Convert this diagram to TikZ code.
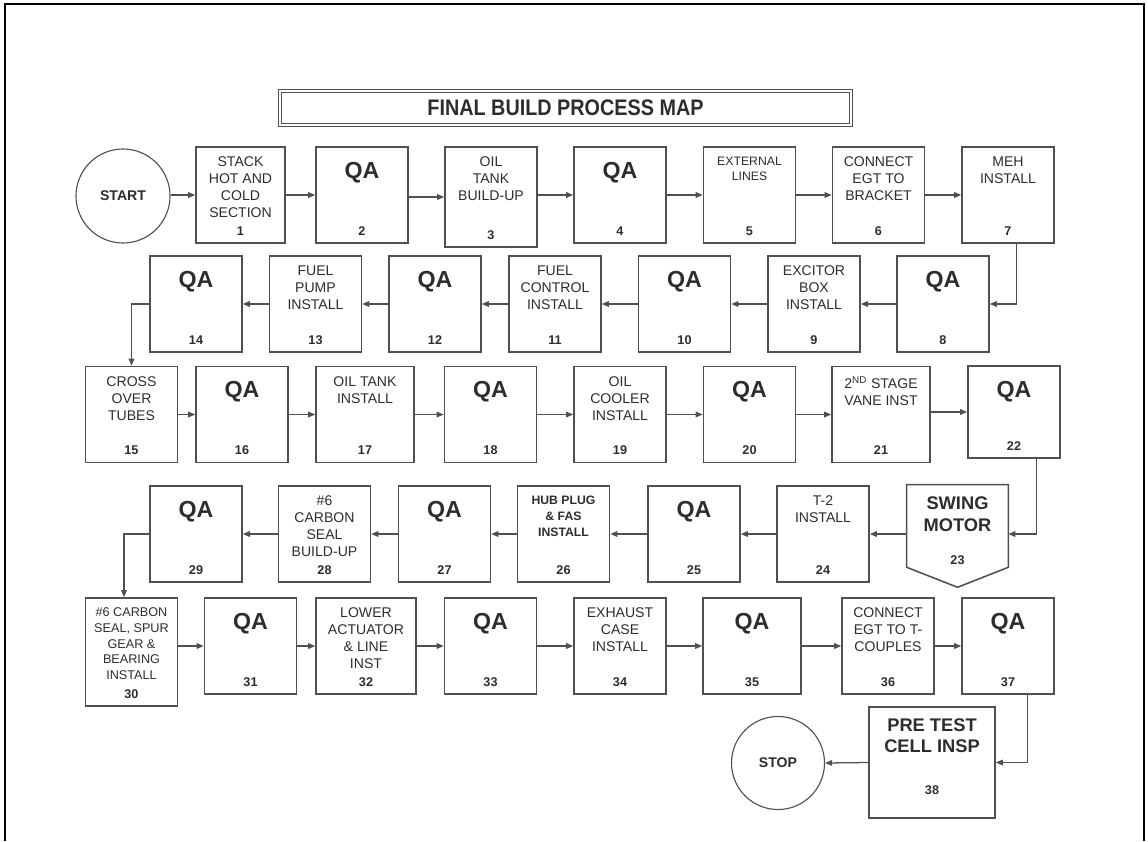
\documentclass[tikz,border=0pt]{standalone}
\usepackage{fontspec}
\setmainfont{Liberation Sans}
\newfontfamily\titlefont{Liberation Sans}[FakeStretch=0.88]
\usetikzlibrary{arrows.meta,calc}
\definecolor{boxgray}{RGB}{80,80,80}
\definecolor{inkgray}{RGB}{45,45,45}
\tikzset{
  boxedge/.style={draw=boxgray,line width=1.1pt},
  box/.style={boxedge,minimum width=2.3cm,minimum height=2.4cm,inner sep=0pt},
  boxtxt/.style={anchor=north,yshift=-7.5pt,align=center,inner sep=0pt,text=inkgray,font=\fontsize{10}{12}\selectfont},
  bigtxt/.style={anchor=north,yshift=-8.5pt,align=center,inner sep=0pt,text=inkgray,font=\fontsize{13}{15.3}\selectfont\bfseries},
  qa/.style={anchor=north,yshift=-11.2pt,inner sep=0pt,text=inkgray,font=\fontsize{16.5}{18}\selectfont\bfseries},
  boxnum/.style={anchor=base,yshift=6pt,inner sep=0pt,text=inkgray,font=\fontsize{9}{10}\selectfont\bfseries},
  term/.style={circle,draw=boxgray,line width=0.8pt,minimum size=2.35cm,inner sep=0pt,text=inkgray,font=\fontsize{10}{12}\selectfont\bfseries},
  flow/.style={draw=boxgray,line width=0.9pt,-{Triangle[length=5pt,width=4pt]}}
}
% box, its text at the top and its number at the bottom
\newcommand{\flowbox}[6][]{%
  \node[box,#1] (#2) at (#3) {};
  \node[#4] (#2t) at (#2.north) {#5};
  \node[boxnum] (#2n) at (#2.south) {#6};}

\begin{document}
\begin{tikzpicture}[x=0.025cm,y=-0.025cm]
\useasboundingbox (0,0) rectangle (1148,841);
\draw[line width=1.3pt] (5,841) |- (1144,4) -- (1144,841);
\node[draw=boxgray,double,double distance=1.8pt,line width=0.7pt,minimum width=14.27cm,minimum height=0.84cm,text=inkgray,font=\titlefont\fontsize{16}{18}\selectfont\bfseries] (title) at (565.5,108) {FINAL BUILD PROCESS MAP};
% row 1
\node[term] (start) at (123,196) {START};
\flowbox[minimum width=2.225cm]{s1}{240.5,195}{boxtxt}{STACK\\HOT AND\\COLD\\SECTION}{1}
\flowbox{s2}{362,195}{qa}{QA}{2}
\flowbox[minimum height=2.5cm]{s3}{491,197}{boxtxt}{OIL\\TANK\\BUILD-UP}{3}
\flowbox{s4}{620,195}{qa}{QA}{4}
\flowbox{s5}{749.5,195}{boxtxt,font=\fontsize{8.7}{11}\selectfont}{EXTERNAL\\LINES}{5}
\flowbox{s6}{878.5,195}{boxtxt}{CONNECT\\EGT TO\\BRACKET}{6}
\flowbox{s7}{1008,195}{boxtxt}{MEH\\INSTALL}{7}
% row 2
\flowbox{s8}{943,304}{qa}{QA}{8}
\flowbox{s9}{814,304}{boxtxt}{EXCITOR\\BOX\\INSTALL}{9}
\flowbox{s10}{684.5,304}{qa}{QA}{10}
\flowbox{s11}{555,304}{boxtxt}{FUEL\\CONTROL\\INSTALL}{11}
\flowbox{s12}{435,304}{qa}{QA}{12}
\flowbox{s13}{315.5,304}{boxtxt}{FUEL\\PUMP\\INSTALL}{13}
\flowbox{s14}{196,304}{qa}{QA}{14}
% row 3
\flowbox{s15}{131.5,414.5}{boxtxt}{CROSS\\OVER\\TUBES}{15}
\flowbox{s16}{242,414.5}{qa}{QA}{16}
\flowbox[minimum width=2.45cm]{s17}{365,414.5}{boxtxt}{OIL TANK\\INSTALL}{17}
\flowbox{s18}{490.5,414.5}{qa}{QA}{18}
\flowbox{s19}{620,414.5}{boxtxt}{OIL\\COOLER\\INSTALL}{19}
\flowbox{s20}{749.5,414.5}{qa}{QA}{20}
\flowbox[minimum width=2.45cm]{s21}{881,414.5}{boxtxt}{2\textsuperscript{ND} STAGE\\VANE INST}{21}
\flowbox[minimum height=2.3cm]{s22}{1014,412}{qa}{QA}{22}
% row 4
\node[minimum width=2.525cm,minimum height=2.05cm,inner sep=0pt] (s23) at (957.5,526) {};
\draw[boxedge] (s23.north west) -- (s23.north east) -- (s23.south east) -- ($(s23.south)+(0,20)$) -- (s23.south west) -- cycle;
\node[bigtxt] (s23t) at (s23.north) {SWING\\MOTOR};
\node[boxnum] (s23n) at ($(s23.south)+(0,6)$) {23};
\flowbox{s24}{823,534}{boxtxt}{T-2\\INSTALL}{24}
\flowbox{s25}{694,534}{qa}{QA}{25}
\flowbox{s26}{563.5,534}{boxtxt,font=\fontsize{8.7}{11.2}\selectfont\bfseries}{HUB PLUG\\\& FAS\\INSTALL}{26}
\flowbox{s27}{444.5,534}{qa}{QA}{27}
\flowbox{s28}{324.5,534}{boxtxt}{\#6\\CARBON\\SEAL\\BUILD-UP}{28}
\flowbox{s29}{196,534}{qa}{QA}{29}
% row 5
\flowbox[minimum height=2.7cm]{s30}{131.5,652}{boxtxt,font=\fontsize{9}{11.1}\selectfont}{\#6 CARBON\\SEAL, SPUR\\GEAR \&\\BEARING\\INSTALL}{30}
\flowbox{s31}{250.5,646}{qa}{QA}{31}
\flowbox[minimum width=2.5cm]{s32}{366,646}{boxtxt}{LOWER\\ACTUATOR\\\& LINE\\INST}{32}
\flowbox{s33}{490.5,646}{qa}{QA}{33}
\flowbox{s34}{620,646}{boxtxt}{EXHAUST\\CASE\\INSTALL}{34}
\flowbox[minimum width=2.45cm]{s35}{752,646}{qa}{QA}{35}
\flowbox{s36}{888,646}{boxtxt}{CONNECT\\EGT TO T-\\COUPLES}{36}
\flowbox{s37}{1008,646}{qa}{QA}{37}
% row 6
\node[box,minimum width=3.15cm,minimum height=2.775cm] (s38) at (932,762.5) {};
\node[bigtxt] (s38t) at (s38.north) {PRE TEST\\CELL INSP};
\node[boxnum] (s38n) at ($(s38.south)+(0,-16)$) {38};
\node[term,minimum size=2.325cm] (stop) at (778,763) {STOP};
% connectors
\foreach \a/\b in {start/s1,s1/s2,s2/s3,s3/s4,s4/s5,s5/s6,s6/s7,s15/s16,s16/s17,s17/s18,s18/s19,s19/s20,s20/s21,s21/s22,s30/s31,s31/s32,s32/s33,s33/s34,s34/s35,s35/s36,s36/s37}
  \draw[flow] (\b.west -| \a.east) -- (\b.west);
\foreach \a/\b in {s8/s9,s9/s10,s10/s11,s11/s12,s12/s13,s13/s14,s23/s24,s24/s25,s25/s26,s26/s27,s27/s28,s28/s29}
  \draw[flow] (\b.east -| \a.west) -- (\b.east);
\draw[flow] ($(s7.south west)!.59!(s7.south east)$) |- (s8.east);
\draw[flow] (s14.west) -| (s15.north);
\draw[flow] ($(s22.south west)!.74!(s22.south east)$) |- (s23.east |- s24.east);
\draw[flow] (s29.west) -| ($(s30.north west)!.42!(s30.north east)$);
\draw[flow] ($(s37.south west)!.71!(s37.south east)$) |- (s38.east);
\draw[flow] (s38.west) -- (stop.east);
\end{tikzpicture}
\end{document}
